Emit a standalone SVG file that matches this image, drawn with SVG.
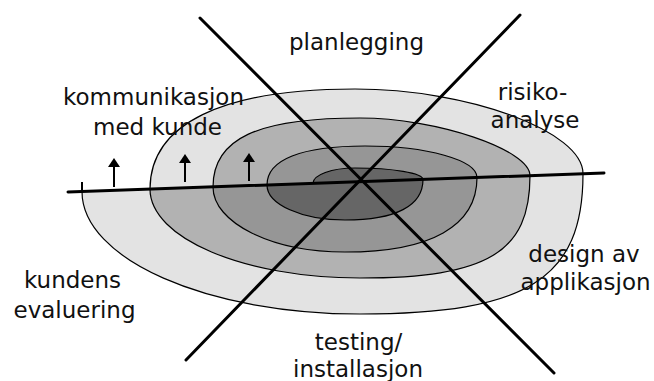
<svg xmlns="http://www.w3.org/2000/svg" width="654" height="381" viewBox="0 0 654 381">
  <style>
    .band { stroke: #000; stroke-width: 1.2; stroke-linejoin: round; }
    .b1 { fill: #e3e3e3; }
    .b2 { fill: #b2b2b2; }
    .b3 { fill: #969696; }
    .b4 { fill: #666666; }
    .axis { stroke: #000; stroke-width: 3; stroke-linecap: round; fill: none; }
    .arrow { stroke: #000; stroke-width: 2; fill: none; }
    .label { font-family: "DejaVu Sans", "Liberation Sans", sans-serif; font-size: 23px; fill: #111; text-anchor: middle; }
  </style>
  <defs>
    <marker id="head" viewBox="0 0 9 12" refX="7" refY="6" markerWidth="9" markerHeight="12" markerUnits="userSpaceOnUse" orient="auto">
      <path d="M0,0 L9,6 L0,12 Z" fill="#000"/>
    </marker>
  </defs>

  <!-- spiral: each band is a lower half-turn followed by an upper half-turn -->
  <g id="spiral">
    <path class="band b1" d="M82,191.5 C82,259.2 206.5,314 360,314 C527.3,314 583,278.9 583,173.7 C583,131.4 469,89 355,89 C221.8,89 150,124 150,189.1 Z"/>
    <path class="band b2" d="M150,189.1 C150,238.2 244,278 360,278 C487.5,278 530,252.4 530,175.6 C530,149.7 436.5,118 360,118 C257.1,118 213,138.7 213,186.9 Z"/>
    <path class="band b3" d="M213,186.9 C213,222.9 272.1,252 345,252 C430.8,252 477,225.9 477,177.5 C477,160.1 426.9,146 365,146 C301.3,146 267,159.6 267,184.9 Z"/>
    <path class="band b4" d="M267,184.9 C267,204.3 301.9,220 345,220 C395.7,220 423,205.8 423,179.4 C423,173.1 392.6,168 355,168 C331.8,168 313,174.8 313,183.3 Z"/>
  </g>

  <g id="connectors">
    <line class="axis" x1="68" y1="192" x2="604" y2="173"/>
    <line class="axis" x1="200" y1="18" x2="554" y2="373"/>
    <line class="axis" x1="520" y1="15" x2="186" y2="360"/>
    <line x1="82" y1="182" x2="82" y2="193" stroke="#000" stroke-width="2"/>
    <line class="arrow" x1="114" y1="187" x2="114" y2="160" marker-end="url(#head)"/>
    <line class="arrow" x1="185" y1="182" x2="185" y2="156" marker-end="url(#head)"/>
    <line class="arrow" x1="249" y1="181" x2="249" y2="155" marker-end="url(#head)"/>
  </g>

  <g id="planlegging"><text class="label" x="356.5" y="50">planlegging</text></g>
  <g id="risikoanalyse">
    <text class="label" x="532.5" y="100">risiko-</text>
    <text class="label" x="535" y="128">analyse</text>
  </g>
  <g id="kommunikasjon">
    <text class="label" x="153.5" y="105">kommunikasjon</text>
    <text class="label" x="157.5" y="135">med kunde</text>
  </g>
  <g id="evaluering">
    <text class="label" x="72.5" y="288">kundens</text>
    <text class="label" x="74.5" y="318">evaluering</text>
  </g>
  <g id="design">
    <text class="label" x="584" y="262">design av</text>
    <text class="label" x="585.5" y="290">applikasjon</text>
  </g>
  <g id="testing">
    <text class="label" x="358.5" y="350">testing/</text>
    <text class="label" x="358" y="377">installasjon</text>
  </g>
</svg>
